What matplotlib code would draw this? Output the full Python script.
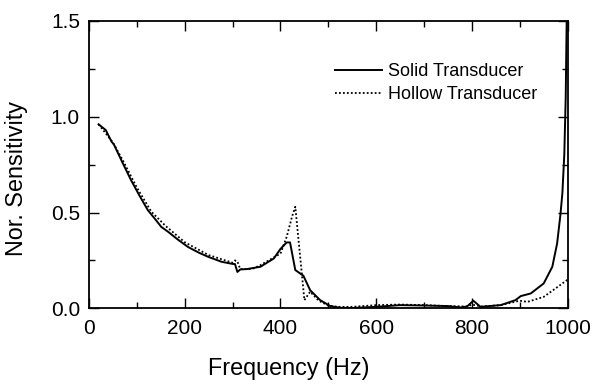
import matplotlib
matplotlib.use("Agg")
import matplotlib.pyplot as plt
from matplotlib.ticker import MultipleLocator

plt.rcParams['font.family'] = ['Liberation Sans', 'DejaVu Sans']

freq_solid = [20, 35, 47, 52, 70, 88, 105, 123, 140, 151, 165, 185, 207, 230, 249, 277,
              300, 305, 310, 316, 330, 358, 386, 400, 413, 420, 431, 448, 462, 483, 504,
              525, 550, 600, 650, 700, 750, 776, 790, 803, 818, 860, 891, 902, 923, 950,
              968, 978, 985, 989, 993, 996, 998]
sens_solid = [0.96, 0.93, 0.87, 0.855, 0.76, 0.668, 0.59, 0.512, 0.46, 0.425, 0.40, 0.36,
              0.32, 0.29, 0.269, 0.243, 0.232, 0.231, 0.19, 0.203, 0.205, 0.217, 0.26, 0.31,
              0.344, 0.344, 0.20, 0.17, 0.095, 0.043, 0.012, 0.003, 0.002, 0.008, 0.017,
              0.015, 0.012, 0.005, 0.01, 0.04, 0.008, 0.017, 0.043, 0.064, 0.078, 0.13,
              0.217, 0.338, 0.49, 0.6, 0.8, 1.1, 1.5]

freq_hollow = [20, 50, 70, 100, 130, 160, 200, 250, 300, 305, 310, 316, 340, 358, 400, 413,
               424, 431, 450, 462, 480, 500, 520, 550, 600, 650, 700, 750, 790, 800, 820,
               860, 900, 916, 950, 978, 1000]
sens_hollow = [0.96, 0.865, 0.775, 0.63, 0.505, 0.43, 0.345, 0.278, 0.238, 0.25, 0.245,
               0.205, 0.205, 0.225, 0.286, 0.373, 0.477, 0.53, 0.043, 0.087, 0.04, 0.015,
               0.008, 0.008, 0.017, 0.02, 0.017, 0.012, 0.01, 0.02, 0.01, 0.017, 0.04,
               0.034, 0.06, 0.11, 0.15]

fig = plt.figure(figsize=(5.95, 3.85), dpi=100)
ax = fig.add_axes([0.1496, 0.199, 0.8044, 0.747])

ax.plot(freq_solid, sens_solid, color='black', lw=1.4, ls='-', label='Solid Transducer')
ax.plot(freq_hollow, sens_hollow, color='black', lw=1.3, ls=(0, (1, 1.2)), label='Hollow Transducer')

ax.set_xlim(0, 1000)
ax.set_ylim(0, 1.5)
ax.xaxis.set_major_locator(MultipleLocator(200))
ax.xaxis.set_minor_locator(MultipleLocator(100))
ax.yaxis.set_major_locator(MultipleLocator(0.5))
ax.yaxis.set_minor_locator(MultipleLocator(0.25))
ax.yaxis.set_major_formatter(matplotlib.ticker.FormatStrFormatter('%.1f'))

ax.tick_params(which='both', direction='in', top=True, right=True, width=1.0)
ax.tick_params(which='major', length=7.5, labelsize=15, pad=7.5)
ax.tick_params(axis='y', which='major', pad=6.5)
ax.tick_params(which='minor', length=4.5)
for s in ax.spines.values():
    s.set_linewidth(1.3)

ax.set_xlabel('Frequency (Hz)', fontsize=16.8)
ax.set_ylabel('Nor. Sensitivity', fontsize=16.8)
ax.xaxis.set_label_coords(0.418, -0.17)
ax.yaxis.set_label_coords(-0.127, 0.453)

ax.legend(loc='upper left', bbox_to_anchor=(0.514, 0.853), frameon=False,
          fontsize=13, handlelength=2.6, handletextpad=0.35, labelspacing=0.32,
          borderpad=0, borderaxespad=0)

fig.savefig('out.png', dpi=100)
